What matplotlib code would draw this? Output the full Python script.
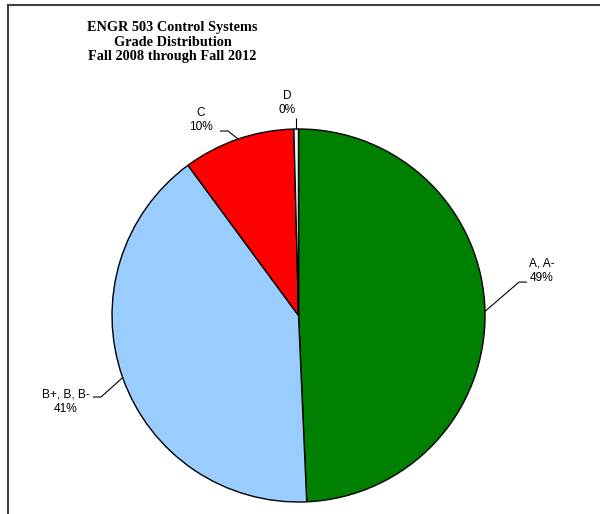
import matplotlib.pyplot as plt
import numpy as np

# grade shares (percent)
grades = ['A, A-', 'B+, B, B-', 'C', 'D']
shares = [49.3, 40.6, 9.7, 0.4]
colors = ['#008000', '#99CCFF', '#FF0000', '#E8F4FF']

# label centre and leader elbow (data units, pie radius = 1)
lbl_pos = [(1.305, 0.239), (-1.247, -0.464), (-0.523, 1.048), (-0.062, 1.139)]
elbow = [(1.182, 0.179), (-1.059, -0.437), (-0.378, 0.989), (None, 1.059)]
tail = [0.043, -0.043, -0.043, 0.0]

title = 'ENGR 503 Control Systems\nGrade Distribution\nFall 2008 through Fall 2012'

fig = plt.figure(figsize=(6.0, 5.14), dpi=100)
ax = fig.add_axes([0.1867, 0.02335, 0.6217, 0.7257])

wedges, _ = ax.pie(shares, colors=colors, startangle=90, counterclock=False,
                   radius=1, wedgeprops=dict(edgecolor='black', linewidth=1.0))
ax.set_xlim(-1, 1)
ax.set_ylim(-1, 1)
ax.axis('off')

total = sum(shares)
for i, w in enumerate(wedges):
    mid = np.deg2rad((w.theta1 + w.theta2) / 2)
    ex, ey = np.cos(mid), np.sin(mid)
    bx, by = elbow[i]
    if bx is None:
        bx = ex
    ax.plot([ex, bx, bx + tail[i]], [ey, by, by], color='black', lw=0.8,
            clip_on=False, solid_capstyle='butt')
    pct = shares[i] / total * 100
    ax.text(lbl_pos[i][0], lbl_pos[i][1], '%s\n%d%%' % (grades[i], round(pct)),
            ha='center', va='center', fontsize=8.6, family='Liberation Sans',
            linespacing=1.25, clip_on=False)

fig.text(172.5 / 600, 1 - 42 / 514, title, ha='center', va='center',
         fontsize=10.3, family='Liberation Serif', fontweight='bold', linespacing=1.12)

# chart border (only left and top fall inside the image)
fig.add_artist(plt.Line2D([8 / 600, 8 / 600], [0, 1 - 5 / 514], color='#404040', lw=1.5,
                          transform=fig.transFigure))
fig.add_artist(plt.Line2D([8 / 600, 1], [1 - 5 / 514, 1 - 5 / 514], color='#404040', lw=1.5,
                          transform=fig.transFigure))

fig.savefig('out.png', dpi=100)
